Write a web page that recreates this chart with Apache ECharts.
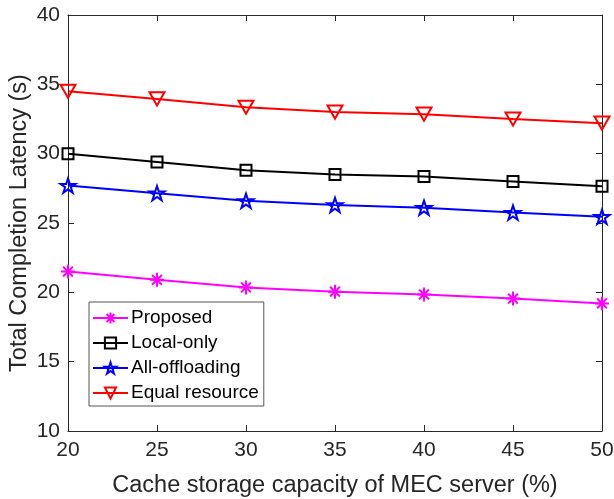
<!DOCTYPE html>
<html>
<head>
<meta charset="utf-8">
<script src="https://cdn.jsdelivr.net/npm/echarts@6/dist/echarts.min.js"></script>
<style>
  html, body { margin: 0; padding: 0; background: #fff; }
  #chart { width: 614px; height: 499px; }
</style>
</head>
<body>
<div id="chart"></div>
<script>
// Cache storage capacity (%) on the x axis
const capacities = [20, 25, 30, 35, 40, 45, 50];

// Total completion latency (s) for each scheme
const proposed      = [21.5, 20.9, 20.35, 20.05, 19.85, 19.55, 19.2];
const localOnly     = [30.0, 29.4, 28.8, 28.5, 28.35, 28.0, 27.65];
const allOffloading = [27.7, 27.15, 26.6, 26.3, 26.1, 25.75, 25.45];
const equalResource = [34.5, 33.95, 33.35, 33.0, 32.85, 32.5, 32.2];

const seriesNames = ['Proposed', 'Local-only', 'All-offloading', 'Equal resource'];
const yAxisTitle = 'Total Completion Latency (s)';
const xAxisTitle = 'Cache storage capacity of MEC server (%)';

const xTicks = { min: 20, max: 50, step: 5 };
const yTicks = { min: 10, max: 40, step: 5 };

const FONT = '"Liberation Sans", Arial, Helvetica, sans-serif';
const AXIS_COLOR = '#262626';

const asteriskPath = 'path://M0,-1L0,1M-1,0L1,0M-0.7,-0.7L0.7,0.7M-0.7,0.7L0.7,-0.7';
const starPath = 'path://M0,-1L0.2245,-0.309L0.951,-0.309L0.363,0.118L0.588,0.809L0,0.382L-0.588,0.809L-0.363,0.118L-0.951,-0.309L-0.2245,-0.309Z';
const triDownPath = 'path://M0,0L2,0L1,1.75Z';

function pairs(values) {
  return capacities.map((c, i) => [c, values[i]]);
}

function lineSeries(name, values, color, symbol, size) {
  return {
    name: name,
    type: 'line',
    data: pairs(values),
    symbol: symbol,
    symbolSize: size,
    symbolKeepAspect: true,
    showAllSymbol: true,
    color: color,
    lineStyle: { color: color, width: 2 },
    itemStyle: { color: 'rgba(255,255,255,0)', borderColor: color, borderWidth: 2 },
    emphasis: { disabled: true },
    animation: false,
    z: 3
  };
}

const baseAxisLine = { show: true, lineStyle: { color: AXIS_COLOR, width: 1 } };
const insideTick = { show: true, inside: true, length: 6, lineStyle: { color: AXIS_COLOR, width: 1 } };

const chart = echarts.init(document.getElementById('chart'), null, { renderer: 'canvas' });

chart.setOption({
  backgroundColor: '#ffffff',
  animation: false,
  textStyle: { fontFamily: FONT },
  grid: { left: 68, right: 12, top: 15, bottom: 68, containLabel: false, outerBoundsMode: 'none' },
  // vertical y-axis title, centred on the plot area
  graphic: [
    {
      type: 'text',
      x: 20,
      y: 223,
      rotation: Math.PI / 2,
      style: {
        text: yAxisTitle,
        fontFamily: FONT,
        fontSize: 23.5,
        fill: AXIS_COLOR,
        align: 'center',
        verticalAlign: 'middle'
      }
    }
  ],
  legend: {
    orient: 'vertical',
    left: 89,
    top: 302,
    width: 174,
    data: seriesNames,
    itemWidth: 35,
    itemHeight: 14,
    itemGap: 5,
    padding: [6, 5, 3, 3],
    backgroundColor: '#ffffff',
    borderColor: '#555555',
    borderWidth: 1,
    borderRadius: 0,
    textStyle: { fontFamily: FONT, fontSize: 19, color: '#000000', lineHeight: 20, padding: [0, 0, 0, -2] },
    selectedMode: false
  },
  xAxis: [
    {
      type: 'value',
      min: xTicks.min, max: xTicks.max, interval: xTicks.step,
      name: xAxisTitle,
      nameLocation: 'middle',
      nameGap: 43,
      nameTextStyle: { fontFamily: FONT, fontSize: 23.5, color: AXIS_COLOR },
      axisLine: baseAxisLine,
      axisTick: insideTick,
      axisLabel: { fontFamily: FONT, fontSize: 21, color: AXIS_COLOR, margin: 9 },
      splitLine: { show: false }
    },
    {
      type: 'value',
      position: 'top',
      min: xTicks.min, max: xTicks.max, interval: xTicks.step,
      axisLine: baseAxisLine,
      axisTick: insideTick,
      axisLabel: { show: false },
      splitLine: { show: false }
    }
  ],
  yAxis: [
    {
      type: 'value',
      min: yTicks.min, max: yTicks.max, interval: yTicks.step,
      axisLine: baseAxisLine,
      axisTick: insideTick,
      axisLabel: { fontFamily: FONT, fontSize: 21, color: AXIS_COLOR, margin: 8 },
      splitLine: { show: false }
    },
    {
      type: 'value',
      position: 'right',
      min: yTicks.min, max: yTicks.max, interval: yTicks.step,
      axisLine: baseAxisLine,
      axisTick: insideTick,
      axisLabel: { show: false },
      splitLine: { show: false }
    }
  ],
  series: [
    lineSeries(seriesNames[0], proposed, '#ff00ff', asteriskPath, 14),
    lineSeries(seriesNames[1], localOnly, '#000000', 'rect', 11),
    lineSeries(seriesNames[2], allOffloading, '#0000ff', starPath, 15),
    lineSeries(seriesNames[3], equalResource, '#ff0000', triDownPath, 15)
  ]
});
</script>
</body>
</html>
